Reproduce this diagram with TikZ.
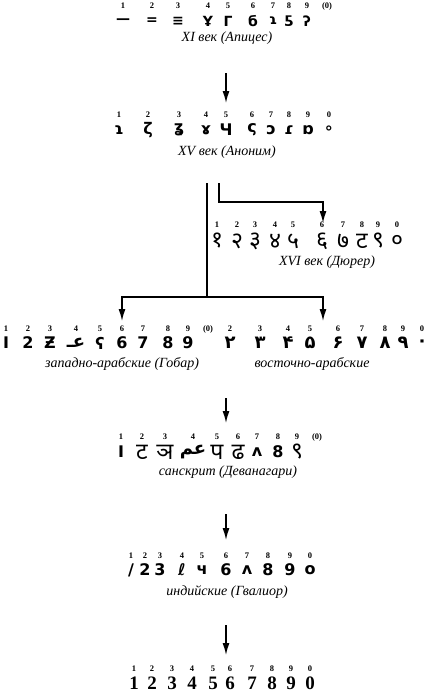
\documentclass[tikz,border=0pt]{standalone}
\usepackage{fontspec}
\setmainfont{Liberation Serif}
\newfontfamily\glyphfont{DejaVu Sans}
\newfontfamily\devafont[Script=Devanagari]{Noto Sans}
\newfontfamily\arabfont[Script=Arabic]{DejaVu Sans}
\TeXXeTstate=1
\usetikzlibrary{arrows.meta}

\begin{document}
\begin{tikzpicture}[x=1pt, y=-1pt]
    \tikzset{
        idx/.style={font=\bfseries\fontsize{8.5}{8.5}\selectfont, inner sep=0pt},
        glyph/.style={font={\glyphfont\bfseries\fontsize{16}{16}\selectfont}, inner sep=0pt},
        caption/.style={font=\itshape\fontsize{14}{14}\selectfont, inner sep=0pt},
        branch/.style={line width=1.4pt},
        flow/.style={line width=1.4pt, -{Latex[length=12pt, width=7pt]}}
    }

    \useasboundingbox (0,0) rectangle (432,697);

    % Constants (glyph row / index row)
    \pgfmathsetmacro{\yAg}{21}  \pgfmathsetmacro{\yAi}{6}
    \pgfmathsetmacro{\yBg}{130} \pgfmathsetmacro{\yBi}{115}
    \pgfmathsetmacro{\yCg}{241} \pgfmathsetmacro{\yCi}{225}
    \pgfmathsetmacro{\yDg}{343} \pgfmathsetmacro{\yDi}{329}
    \pgfmathsetmacro{\yFg}{452} \pgfmathsetmacro{\yFi}{437}
    \pgfmathsetmacro{\yGg}{570} \pgfmathsetmacro{\yGi}{556}
    \pgfmathsetmacro{\yHg}{683} \pgfmathsetmacro{\yHi}{669}

    % name, x, glyph y, index y, index, glyph
    \newcommand{\digitform}[6]{
        \node [idx] (#1i) at (#2, #4) {#5};
        \node [glyph] (#1) at (#2, #3) {#6};
    }
    \newcommand{\apex}{\fontsize{14}{14}\selectfont}
    \newcommand{\deva}{\devafont\fontsize{23}{23}\selectfont}
    \newcommand{\arab}{\arabfont\fontsize{18}{18}\selectfont}
    \newcommand{\modern}{\rmfamily\fontsize{19}{19}\selectfont}

    % XI century
    \digitform{xi1}{123}{\yAg}{\yAi}{1}{\apex —}
    \digitform{xi2}{152}{\yAg}{\yAi}{2}{\apex =}
    \digitform{xi3}{178}{\yAg}{\yAi}{3}{\apex ≡}
    \digitform{xi4}{208}{\yAg}{\yAi}{4}{\apex Ұ}
    \digitform{xi5}{228}{\yAg}{\yAi}{5}{\apex Г}
    \digitform{xi6}{253}{\yAg}{\yAi}{6}{\apex б}
    \digitform{xi7}{273}{\yAg}{\yAi}{7}{\apex ɿ}
    \digitform{xi8}{289}{\yAg}{\yAi}{8}{\apex ƽ}
    \digitform{xi9}{307}{\yAg}{\yAi}{9}{\apex ʔ}
    \node [idx] (xi0i) at (327, \yAi) {(0)};
    \node [caption] (capA) at (227, 38) {XI век (Апицес)};

    % XV century
    \digitform{xv1}{119}{\yBg}{\yBi}{1}{ɿ}
    \digitform{xv2}{148}{\yBg}{\yBi}{2}{ζ}
    \digitform{xv3}{179}{\yBg}{\yBi}{3}{ʓ}
    \digitform{xv4}{206}{\yBg}{\yBi}{4}{ɤ}
    \digitform{xv5}{226}{\yBg}{\yBi}{5}{Ч}
    \digitform{xv6}{252}{\yBg}{\yBi}{6}{ς}
    \digitform{xv7}{271}{\yBg}{\yBi}{7}{ɔ}
    \digitform{xv8}{289}{\yBg}{\yBi}{8}{ɾ}
    \digitform{xv9}{308}{\yBg}{\yBi}{9}{ɒ}
    \digitform{xv0}{329}{\yBg}{\yBi}{0}{∘}
    \node [caption] (capB) at (227, 152) {XV век (Аноним)};

    % XVI century
    \digitform{xvi1}{217}{\yCg}{\yCi}{1}{\deva १}
    \digitform{xvi2}{237}{\yCg}{\yCi}{2}{\deva २}
    \digitform{xvi3}{255}{\yCg}{\yCi}{3}{\deva ३}
    \digitform{xvi4}{275}{\yCg}{\yCi}{4}{\deva ४}
    \digitform{xvi5}{293}{\yCg}{\yCi}{5}{\deva ५}
    \digitform{xvi6}{322}{\yCg}{\yCi}{6}{\deva ६}
    \digitform{xvi7}{343}{\yCg}{\yCi}{7}{\deva ७}
    \digitform{xvi8}{362}{\yCg}{\yCi}{8}{\deva ट}
    \digitform{xvi9}{378}{\yCg}{\yCi}{9}{\deva ९}
    \digitform{xvi0}{397}{\yCg}{\yCi}{0}{\deva ०}
    \node [caption] (capC) at (327, 262) {XVI век (Дюрер)};

    % west arabic
    \digitform{wa1}{6}{\yDg}{\yDi}{1}{I}
    \digitform{wa2}{28}{\yDg}{\yDi}{2}{2}
    \digitform{wa3}{50}{\yDg}{\yDi}{3}{Ƶ}
    \digitform{wa4}{76}{\yDg}{\yDi}{4}{\arab\beginR عـ\endR}
    \digitform{wa5}{100}{\yDg}{\yDi}{5}{ʕ}
    \digitform{wa6}{122}{\yDg}{\yDi}{6}{6}
    \digitform{wa7}{143}{\yDg}{\yDi}{7}{7}
    \digitform{wa8}{168}{\yDg}{\yDi}{8}{8}
    \digitform{wa9}{188}{\yDg}{\yDi}{9}{9}
    \node [idx] (wa0i) at (208, \yDi) {(0)};
    \node [caption] (capD) at (122, 364) {западно-арабские (Гобар)};

    % east arabic
    \digitform{ea2}{230}{\yDg}{\yDi}{2}{\arab ۲}
    \digitform{ea3}{260}{\yDg}{\yDi}{3}{\arab ۳}
    \digitform{ea4}{288}{\yDg}{\yDi}{4}{\arab ۴}
    \digitform{ea5}{310}{\yDg}{\yDi}{5}{\arab ۵}
    \digitform{ea6}{338}{\yDg}{\yDi}{6}{\arab ۶}
    \digitform{ea7}{362}{\yDg}{\yDi}{7}{\arab ۷}
    \digitform{ea8}{385}{\yDg}{\yDi}{8}{\arab ۸}
    \digitform{ea9}{403}{\yDg}{\yDi}{9}{\arab ۹}
    \digitform{ea0}{422}{\yDg}{\yDi}{0}{\arab ۰}
    \node [caption] (capE) at (312, 364) {восточно-арабские};

    % sanskrit
    \digitform{sk1}{121}{\yFg}{\yFi}{1}{I}
    \digitform{sk2}{142}{\yFg}{\yFi}{2}{\deva ट}
    \digitform{sk3}{165}{\yFg}{\yFi}{3}{\deva ञ}
    \digitform{sk4}{193}{\yFg}{\yFi}{4}{\arab\beginR عم\endR}
    \digitform{sk5}{217}{\yFg}{\yFi}{5}{\deva प}
    \digitform{sk6}{238}{\yFg}{\yFi}{6}{\deva ढ}
    \digitform{sk7}{257}{\yFg}{\yFi}{7}{ʌ}
    \digitform{sk8}{278}{\yFg}{\yFi}{8}{8}
    \digitform{sk9}{297}{\yFg}{\yFi}{9}{\deva ९}
    \node [idx] (sk0i) at (317, \yFi) {(0)};
    \node [caption] (capF) at (228, 472) {санскрит (Деванагари)};

    % gwalior
    \digitform{gw1}{131}{\yGg}{\yGi}{1}{/}
    \digitform{gw2}{145}{\yGg}{\yGi}{2}{2}
    \digitform{gw3}{160}{\yGg}{\yGi}{3}{3}
    \digitform{gw4}{182}{\yGg}{\yGi}{4}{ℓ}
    \digitform{gw5}{202}{\yGg}{\yGi}{5}{ч}
    \digitform{gw6}{226}{\yGg}{\yGi}{6}{6}
    \digitform{gw7}{247}{\yGg}{\yGi}{7}{ʌ}
    \digitform{gw8}{268}{\yGg}{\yGi}{8}{8}
    \digitform{gw9}{290}{\yGg}{\yGi}{9}{9}
    \digitform{gw0}{310}{\yGg}{\yGi}{0}{o}
    \node [caption] (capG) at (227, 592) {индийские (Гвалиор)};

    % modern
    \digitform{md1}{134}{\yHg}{\yHi}{1}{\modern 1}
    \digitform{md2}{152}{\yHg}{\yHi}{2}{\modern 2}
    \digitform{md3}{172}{\yHg}{\yHi}{3}{\modern 3}
    \digitform{md4}{192}{\yHg}{\yHi}{4}{\modern 4}
    \digitform{md5}{213}{\yHg}{\yHi}{5}{\modern 5}
    \digitform{md6}{230}{\yHg}{\yHi}{6}{\modern 6}
    \digitform{md7}{252}{\yHg}{\yHi}{7}{\modern 7}
    \digitform{md8}{272}{\yHg}{\yHi}{8}{\modern 8}
    \digitform{md9}{291}{\yHg}{\yHi}{9}{\modern 9}
    \digitform{md0}{310}{\yHg}{\yHi}{0}{\modern 0}

    % Arrow points
    \coordinate (a1s) at (226, 73);  \coordinate (a1e) at (226, 103);
    \coordinate (b0) at (207, 183);  \coordinate (b1) at (207, 297);
    \coordinate (bl) at (122, 321);  \coordinate (br) at (323, 321);
    \coordinate (d0) at (219, 183);  \coordinate (d1) at (323, 202);
    \coordinate (d2) at (323, 223);
    \coordinate (a3s) at (226, 398); \coordinate (a3e) at (226, 423);
    \coordinate (a4s) at (226, 514); \coordinate (a4e) at (226, 540);
    \coordinate (a5s) at (226, 625); \coordinate (a5e) at (226, 655);

    % Arrows
    \draw [flow] (a1s) -- (a1e);
    \draw [branch] (b0) -- (b1);
    \draw [flow] (b1) -| (bl);
    \draw [flow] (b1) -| (br);
    \draw [flow] (d0) |- (d1) -- (d2);
    \draw [flow] (a3s) -- (a3e);
    \draw [flow] (a4s) -- (a4e);
    \draw [flow] (a5s) -- (a5e);

\end{tikzpicture}
\end{document}
